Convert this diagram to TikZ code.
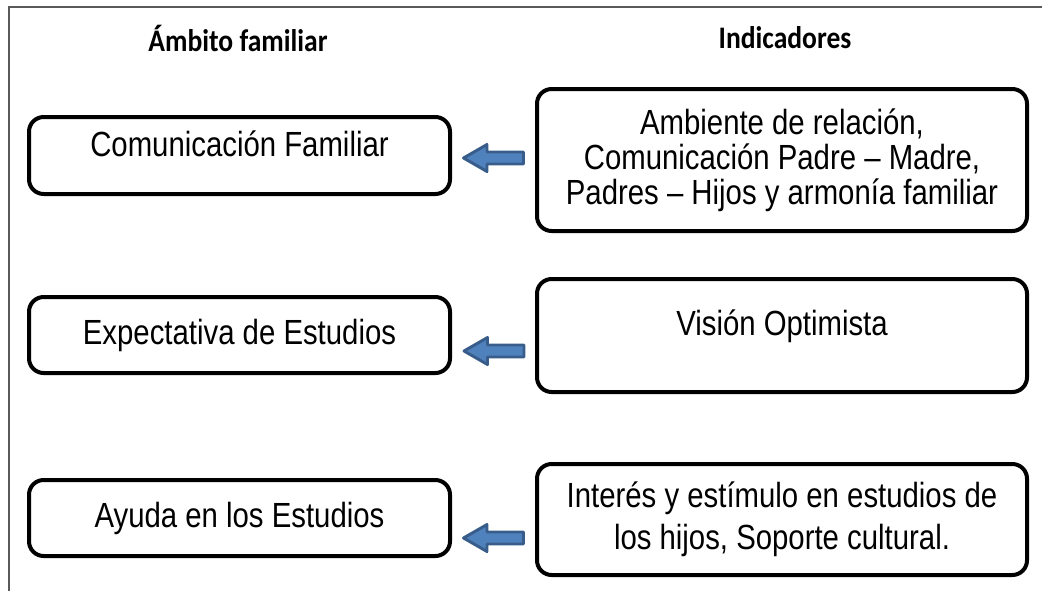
\documentclass[tikz,border=0pt]{standalone}
\usepackage{fontspec}
\setmainfont{Liberation Sans}
\newfontfamily\boxfont{Liberation Sans}[FakeStretch=0.84]
\newfontfamily\titlefont{Carlito}[FakeStretch=0.88]
\definecolor{arrfill}{HTML}{4F81BD}
\definecolor{arrdraw}{HTML}{385D8A}
\begin{document}
\begin{tikzpicture}[x=0.75pt,y=-0.75pt,
  box/.style={draw=black, line width=3pt, rounded corners=11pt, align=center,
    inner sep=0pt, font=\boxfont\fontsize{26.2}{26.3}\selectfont},
  lbox/.style={box, minimum width=315.75pt},
  rbox/.style={box, minimum width=367.5pt},
  blockarrow/.style={fill=arrfill, draw=arrdraw, line width=2.2pt, line join=round},
  title/.style={font=\titlefont\bfseries\fontsize{23.5}{25}\selectfont}]
\useasboundingbox (0,0) rectangle (1042,590);
% frame
\draw[black!65, line width=0.8pt] (9,600) -- (9,7) -- (1050,7);
% titles
\node[title] (t1) at (238,38) {Ámbito familiar};
\node[title] (t2) at (785,38) {Indicadores};
% left boxes
\node[lbox, minimum height=57.75pt] (l1) at (239.5,155.5) {Comunicación Familiar\\[-8pt]\mbox{}};
\node[lbox, minimum height=57pt] (l2) at (239.5,335) {Expectativa de Estudios};
\node[lbox, minimum height=57pt] (l3) at (239.5,518) {Ayuda en los Estudios};
% right boxes
\node[rbox, minimum height=106.5pt] (r1) at (782,160) {Ambiente de relación,\\Comunicación Padre – Madre,\\Padres – Hijos y armonía familiar};
\node[rbox, minimum height=84.75pt] (r2) at (782,335.5) {Visión Optimista\\[-7pt]\mbox{}};
\node[rbox, minimum height=83.25pt] (r3) at (782,519.5) {Interés y estímulo en estudios de\\[5pt]los hijos, Soporte cultural.};
% arrow tips
\coordinate (a1) at (463.5,158);
\coordinate (a2) at (464,351);
\coordinate (a3) at (463.5,538);
% block arrows (from indicator to domain)
\foreach \a in {a1,a2,a3}{
  \draw[blockarrow] (\a) -- ++(23.5,-13.5) -- ++(0,7.5) -- ++(36.5,0) -- ++(0,12)
    -- ++(-36.5,0) -- ++(0,7.5) -- cycle;
}
\end{tikzpicture}
\end{document}
